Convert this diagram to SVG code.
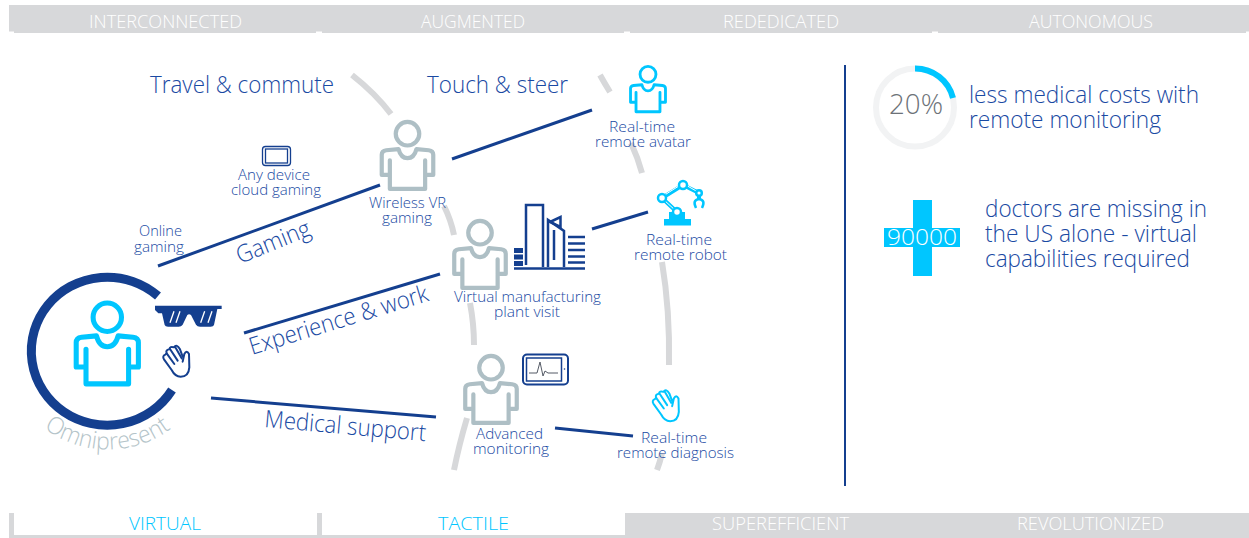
<svg xmlns="http://www.w3.org/2000/svg" width="1249" height="538" viewBox="0 0 1249 538">
<style>
text{font-family:"Open Sans","Noto Sans","Liberation Sans",sans-serif;font-weight:300;fill:#1a4aa3}
.s{font-size:15px;text-anchor:start}
.m{font-size:24px}
.b{font-size:19px;fill:#fff;font-weight:300}
.c{fill:#00c6ff!important}
.arc{fill:none;stroke:#d7d8da;stroke-width:6}
.ln{stroke:#143f8f;stroke-width:3;fill:none}
.ico{fill:none;stroke:#143f8f;stroke-linejoin:round;stroke-linecap:round}
.cy{fill:none;stroke:#00c6ff;stroke-linejoin:round;stroke-linecap:round}
</style>
<defs>
<g id="person">
<circle cx="50" cy="24.5" r="21"/>
<path d="M18.5 72V123H81.5V72M18.5 98H4V62Q4 55 12 54L34 52Q38 68 50 68Q62 68 66 52L88 54Q96 55 96 62V98H81.5"/>
</g>
<g id="hand">
<path d="M128 215L133 192Q140 178 147 192L148 232Q146 260 122 260Q105 260 95 240L72 208Q66 198 76 194L80 190Q76 180 88 178Q90 168 102 172Q110 160 120 178L128 200"/>
<path d="M80 190L103 222M90 177L113 212M106 172L125 205"/>
</g>
</defs>
<g id="bands">
<rect x="9" y="5" width="1240" height="26.500" fill="#d7d8da"/>
<rect x="14" y="31" width="302" height="2" fill="#d7d8da"/>
<rect x="322" y="31" width="302" height="2" fill="#d7d8da"/>
<rect x="630" y="31" width="302" height="2" fill="#d7d8da"/>
<rect x="938" y="31" width="308" height="2" fill="#d7d8da"/>
<path d="M9 513H14V535H317V513H322V535H625V513H1249V538H9Z" fill="#d7d8da"/>
<text class="b" x="89" y="28" textLength="153" lengthAdjust="spacingAndGlyphs">INTERCONNECTED</text>
<text class="b" x="421" y="28" textLength="104" lengthAdjust="spacingAndGlyphs">AUGMENTED</text>
<text class="b" x="723" y="28" textLength="116" lengthAdjust="spacingAndGlyphs">REDEDICATED</text>
<text class="b" x="1029" y="28" textLength="124" lengthAdjust="spacingAndGlyphs">AUTONOMOUS</text>
<text class="b c" x="129" y="530" textLength="72" lengthAdjust="spacingAndGlyphs">VIRTUAL</text>
<text class="b c" x="438" y="530" textLength="71" lengthAdjust="spacingAndGlyphs">TACTILE</text>
<text class="b" x="712" y="530" textLength="137" lengthAdjust="spacingAndGlyphs">SUPEREFFICIENT</text>
<text class="b" x="1017" y="530" textLength="147" lengthAdjust="spacingAndGlyphs">REVOLUTIONIZED</text>
</g>
<g id="curves">
<path class="arc" d="M352 75Q375 93 391 114"/>
<path class="arc" d="M444 206Q451 220 454 235"/>
<path class="arc" d="M470 303Q474 324 474 345"/>
<path class="arc" d="M467 418Q459 445 454 470"/>
<path class="arc" d="M600 75Q605 84 610 92"/>
<path class="arc" d="M631 143Q638 158 642 173"/>
<path class="arc" d="M662 262Q670 310 669 365"/>
<path class="arc" d="M662 453Q660 462 657 470"/>
</g>
<g id="connectors">
<path class="ln" d="M158 266L380 185"/>
<path class="ln" d="M452 159L592 110"/>
<path class="ln" d="M244 333L440 274"/>
<path class="ln" d="M211 398L436 417"/>
<path class="ln" d="M555 428L633 436"/>
<path class="ln" d="M592 229L648 212"/>
<path d="M845 65V486" stroke="#143f8f" stroke-width="2" fill="none"/>
</g>
<g id="omnipresent">
<path d="M158 296A76 74 0 1 0 172 390" fill="none" stroke="#143f8f" stroke-width="9"/>
<use href="#person" transform="translate(73.500 300.700) scale(.676)" class="cy" stroke-width="7.500"/>
<path id="omniArc" d="M44 428A106 106 0 0 0 177 424" fill="none"/>
<text font-size="24" style="fill:#b4c4c9"><textPath href="#omniArc" textLength="136" lengthAdjust="spacingAndGlyphs">Omnipresent</textPath></text>
<g transform="translate(140 290) scale(.3333)">
<path fill="#143f8f" d="M45 47H245V57H232L222 105Q220 110 212 110H180Q172 110 168 104L153 75Q147 70 142 75L128 104Q124 110 116 110H84Q76 110 74 105L66 70H55L45 60Z"/>
<path stroke="#fff" stroke-width="4" fill="none" d="M102 64L90 98M120 64L108 98M194 64L182 98M216 64L204 98"/>
</g>
<use href="#hand" transform="translate(140 290) scale(.3333)" class="ico" stroke-width="6"/>
</g>
<g id="labels-main">
<text class="m" x="150" y="93" textLength="184" lengthAdjust="spacingAndGlyphs">Travel &amp; commute</text>
<text class="m" x="427" y="93" textLength="141" lengthAdjust="spacingAndGlyphs">Touch &amp; steer</text>
<text class="m" transform="translate(240 264) rotate(-22)" textLength="78" lengthAdjust="spacingAndGlyphs">Gaming</text>
<text class="m" transform="translate(252 355) rotate(-17)" textLength="186" lengthAdjust="spacingAndGlyphs">Experience &amp; work</text>
<text class="m" transform="translate(264 427) rotate(5)" textLength="162" lengthAdjust="spacingAndGlyphs">Medical support</text>
</g>
<g id="online-gaming">
<text class="s" x="139" y="236" textLength="43" lengthAdjust="spacingAndGlyphs">Online</text>
<text class="s" x="134" y="252" textLength="50" lengthAdjust="spacingAndGlyphs">gaming</text>
</g>
<g id="cloud-gaming">
<rect x="262.500" y="146.500" width="28" height="19" rx="3" fill="none" stroke="#143f8f" stroke-width="1.300"/>
<rect x="265.500" y="149" width="22" height="14" fill="none" stroke="#143f8f" stroke-width="1.300"/>
<text class="s" x="238" y="180" textLength="72" lengthAdjust="spacingAndGlyphs">Any device</text>
<text class="s" x="231" y="195" textLength="90" lengthAdjust="spacingAndGlyphs">cloud gaming</text>
</g>
<g id="wireless-vr">
<use href="#person" transform="translate(379.500 120) scale(.56)" fill="none" stroke="#aebfc5" stroke-width="7.500" stroke-linejoin="round" stroke-linecap="round"/>
<text class="s" x="369" y="208" textLength="77" lengthAdjust="spacingAndGlyphs">Wireless VR</text>
<text class="s" x="382" y="223" textLength="50" lengthAdjust="spacingAndGlyphs">gaming</text>
</g>
<g id="manufacturing">
<use href="#person" transform="translate(452 219) scale(.56)" fill="none" stroke="#aebfc5" stroke-width="7.500" stroke-linejoin="round" stroke-linecap="round"/>
<g fill="none" stroke="#143f8f" stroke-width="2.500">
<path d="M526 265V205H543V267"/>
<path d="M514 268.500H585"/>
<path d="M548 267V220L564 231V267"/>
<path d="M550 222L560.500 217V227Z"/>
<path d="M554 230V260"/>
<path d="M568 237H585M568 243.500H585M568 250H585M568 256.500H585M568 262.500H585"/>
</g>
<path fill="#143f8f" d="M514 248H523V253H514ZM514 254.500H523V259.500H514ZM514 261H523V266H514Z"/>
<text class="s" x="454" y="302" textLength="147" lengthAdjust="spacingAndGlyphs">Virtual manufacturing</text>
<text class="s" x="494" y="317" textLength="66" lengthAdjust="spacingAndGlyphs">plant visit</text>
</g>
<g id="advanced-monitoring">
<use href="#person" transform="translate(463 354) scale(.56)" fill="none" stroke="#aebfc5" stroke-width="7.500" stroke-linejoin="round" stroke-linecap="round"/>
<rect x="523" y="354.500" width="45" height="30" rx="4" fill="none" stroke="#143f8f" stroke-width="2"/>
<rect x="526.500" y="358" width="35" height="23" fill="none" stroke="#143f8f" stroke-width="1.500"/>
<path d="M529 373H537L540 362L543 376L545 371L548 373H558" fill="none" stroke="#555b66" stroke-width="1"/>
<circle cx="564.500" cy="369" r=".8" fill="#143f8f"/>
<text class="s" x="476" y="439" textLength="67" lengthAdjust="spacingAndGlyphs">Advanced</text>
<text class="s" x="473" y="454" textLength="76" lengthAdjust="spacingAndGlyphs">monitoring</text>
</g>
<g id="remote-avatar">
<use href="#person" transform="translate(629 65) scale(.38)" class="cy" stroke-width="7.500"/>
<text class="s" x="609" y="132" textLength="66" lengthAdjust="spacingAndGlyphs">Real-time</text>
<text class="s" x="595" y="147" textLength="96" lengthAdjust="spacingAndGlyphs">remote avatar</text>
</g>
<g id="remote-robot">
<path fill="#00c6ff" d="M664 219H669V212H685V219H691V225.500H664Z"/>
<path d="M662 198L677 212M662 198L683 185L699 193V200" fill="none" stroke="#00c6ff" stroke-width="4"/>
<path d="M663 196L682 184M664 200L676 211M684 184L698 192" fill="none" stroke="#fff" stroke-width="1"/>
<g fill="#fff" stroke="#00c6ff" stroke-width="2.500">
<circle cx="677" cy="212" r="4"/>
<circle cx="662" cy="198" r="4"/>
<circle cx="683" cy="185" r="4"/>
<circle cx="699" cy="193" r="2.800"/>
</g>
<path d="M696 208Q692 200 699 199Q706 200 702 208" fill="none" stroke="#00c6ff" stroke-width="2.500"/>
<text class="s" x="646" y="245" textLength="66" lengthAdjust="spacingAndGlyphs">Real-time</text>
<text class="s" x="634" y="260" textLength="93" lengthAdjust="spacingAndGlyphs">remote robot</text>
</g>
<g id="remote-diagnosis">
<use href="#hand" transform="translate(629.500 334.500) scale(.3333)" class="cy" stroke-width="6"/>
<text class="s" x="641" y="443" textLength="66" lengthAdjust="spacingAndGlyphs">Real-time</text>
<text class="s" x="617" y="458" textLength="117" lengthAdjust="spacingAndGlyphs">remote diagnosis</text>
</g>
<g id="stat-costs">
<circle cx="915" cy="107.500" r="39" fill="none" stroke="#f2f3f4" stroke-width="6"/>
<path d="M915 68.500A39 39 0 0 1 953 98" fill="none" stroke="#00c6ff" stroke-width="6"/>
<text x="889" y="114" font-size="27" style="fill:#6d7278" textLength="54" lengthAdjust="spacingAndGlyphs">20%</text>
<text class="m" x="969" y="103" textLength="230" lengthAdjust="spacingAndGlyphs">less medical costs with</text>
<text class="m" x="969" y="128" textLength="192" lengthAdjust="spacingAndGlyphs">remote monitoring</text>
</g>
<g id="stat-doctors">
<path fill="#00c6ff" d="M913 200H932V228H960V247H932V276H913V247H884V228H913Z"/>
<text x="887" y="245" font-size="22" style="fill:#fff" textLength="70" lengthAdjust="spacingAndGlyphs">90000</text>
<text class="m" x="985" y="217" textLength="222" lengthAdjust="spacingAndGlyphs">doctors are missing in</text>
<text class="m" x="985" y="242" textLength="212" lengthAdjust="spacingAndGlyphs">the US alone - virtual</text>
<text class="m" x="985" y="267" textLength="205" lengthAdjust="spacingAndGlyphs">capabilities required</text>
</g>
</svg>
